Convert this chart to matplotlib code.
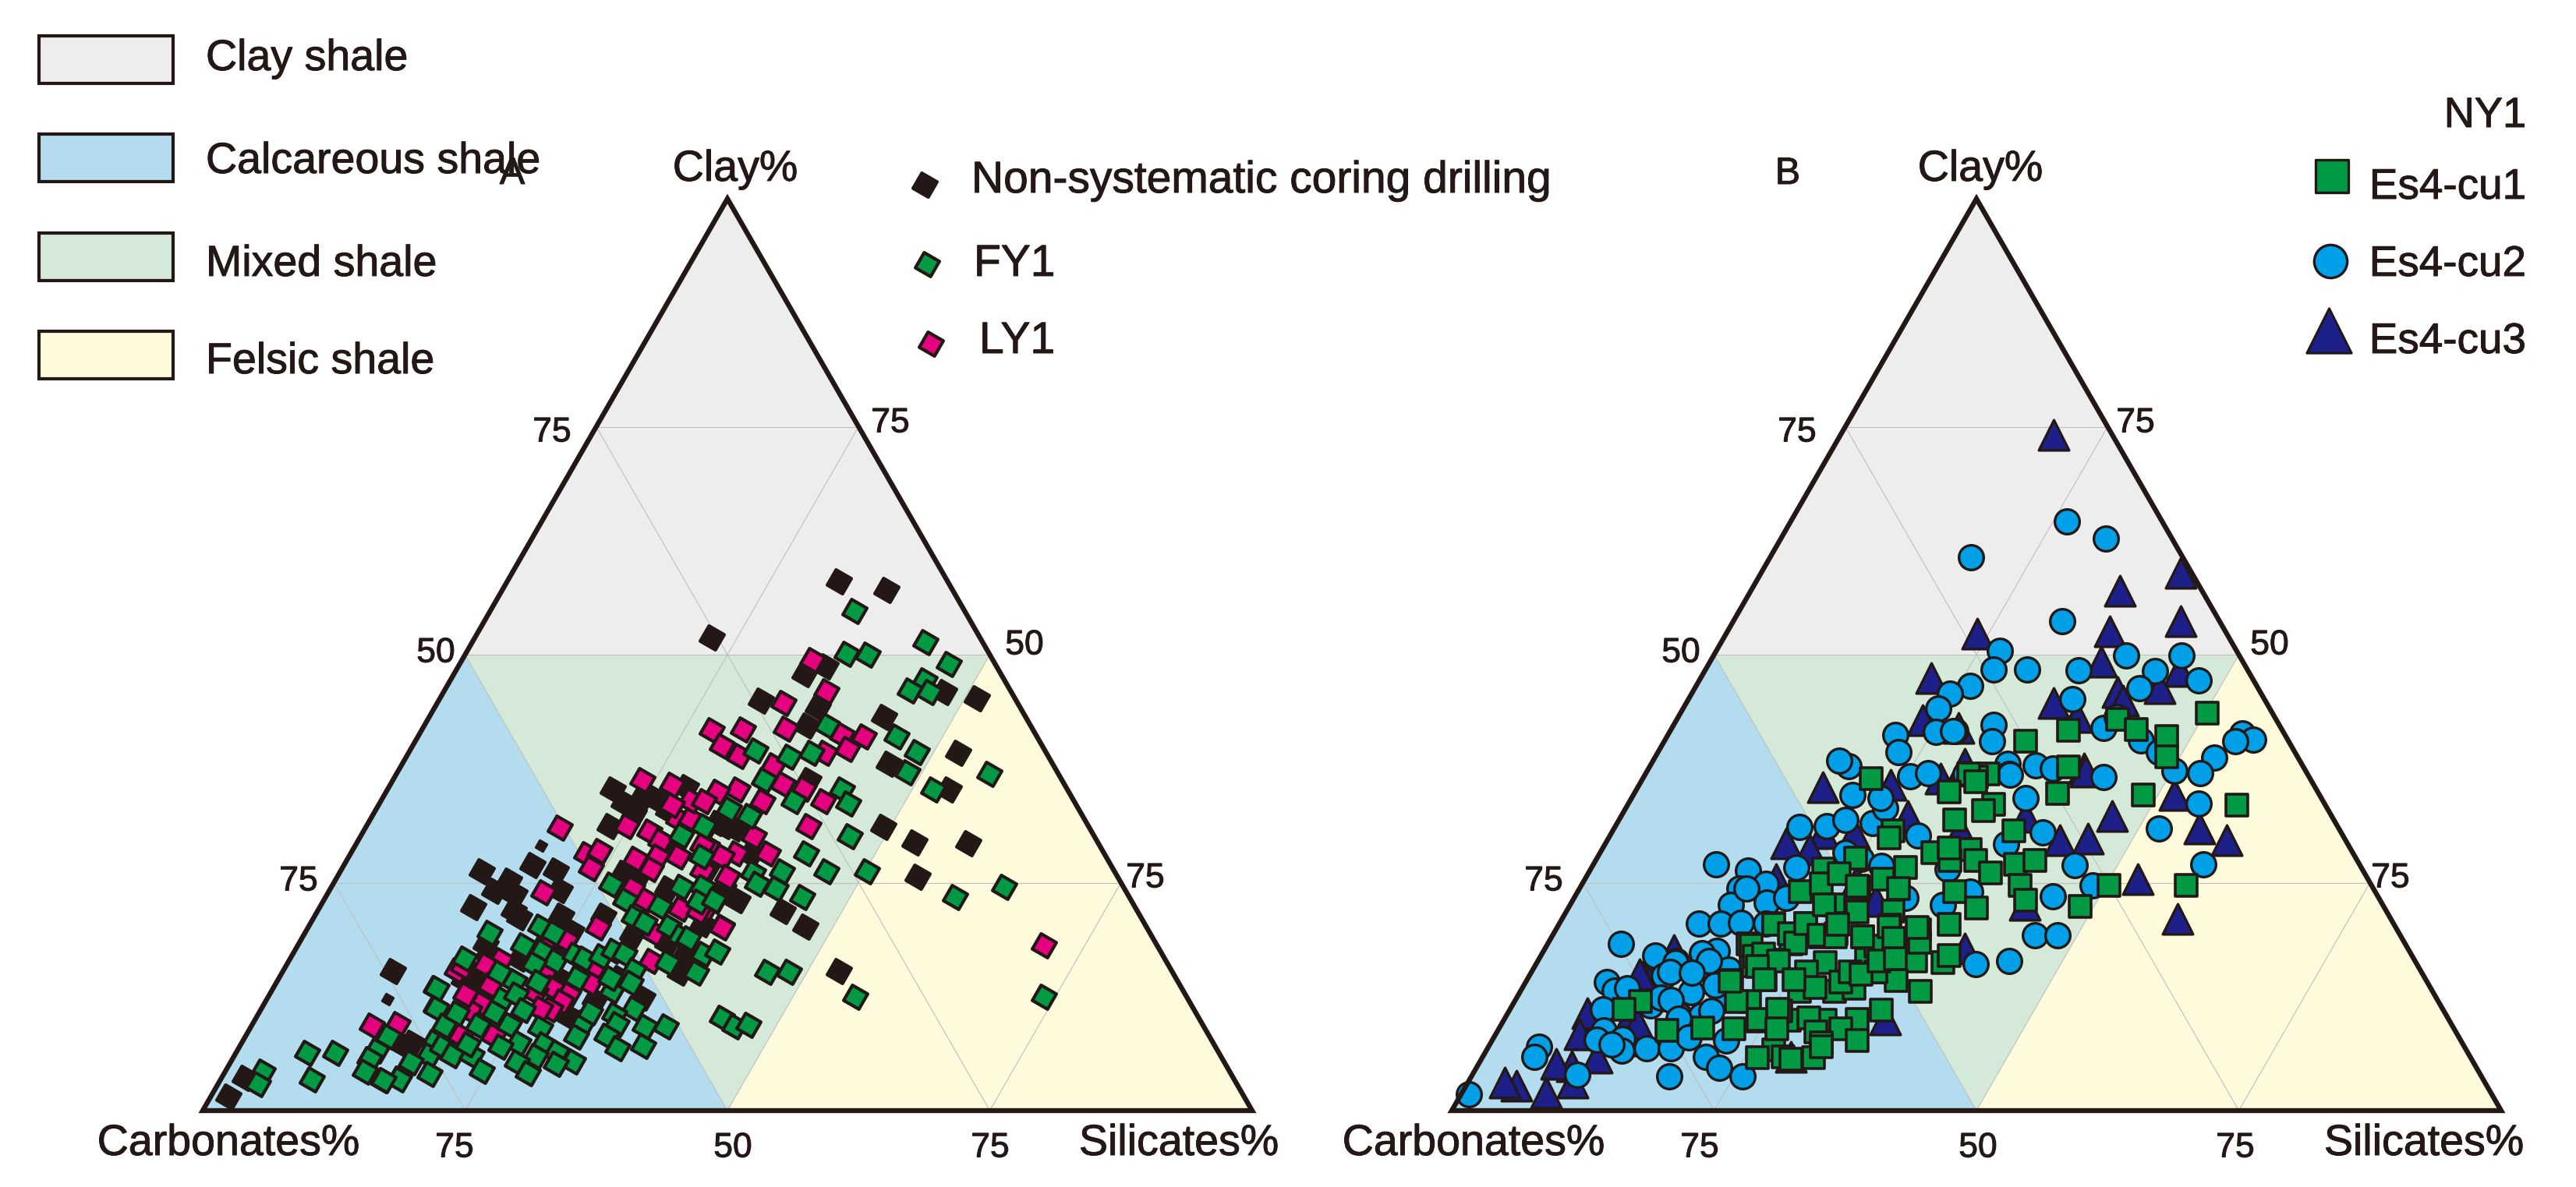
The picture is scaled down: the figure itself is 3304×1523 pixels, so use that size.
import numpy as np
import matplotlib
matplotlib.use('Agg')
import matplotlib.pyplot as plt
import matplotlib.patheffects as pe
from matplotlib.patches import Polygon, Rectangle

plt.rcParams['font.family'] = ['Liberation Sans', 'DejaVu Sans']

# Values, as (clay %, silicates %); carbonates % is the rest
non_systematic = [
    (58.0,31.6),(57.1,36.6),(51.9,22.6),(47.9,33.4),(48.7,35.0),(45.0,30.7),(44.2,36.5),(42.2,36.5),
    (43.2,43.3),(38.0,46.4),(45.9,47.7),(45.2,51.2),(39.2,52.4),(35.2,53.5),(31.1,49.3),(29.4,53.1),
    (29.3,58.3),(25.6,55.3),(36.2,39.6),(21.9,44.3),(20.2,47.3),(23.1,39.4),(24.4,37.4),(28.1,38.2),
    (31.2,34.2),(1.5,1.7),(3.6,2.2),(15.3,10.5),(26.2,13.5),(26.9,18.0),(26.3,20.5),(25.2,16.6),
    (24.1,15.7),(23.8,17.8),(24.2,21.9),(22.3,14.6),(21.9,18.7),(21.2,19.6),(21.4,23.5),(19.7,25.3),
    (18.2,17.9),(17.2,18.6),(14.4,17.7),(14.1,19.1),(13.0,20.5),(16.7,21.9),(18.1,25.1),(14.4,27.0),
    (12.1,31.3),(10.5,29.4),(14.5,32.4),(12.4,35.7),(7.4,16.2),(7.3,15.4),(31.2,23.2),(33.8,23.2),
    (32.6,24.8),(34.3,25.9),(32.9,27.9),(35.2,21.5),(31.5,33.3),(30.9,35.3),(28.6,30.3),(26.1,27.1),
    (25.5,28.6),(24.4,32.1),(21.4,27.5),(19.2,31.3),(20.4,37.4),(18.4,35.1),(17.2,37.4),(15.1,37.9),
    (34.3,24.7),(35.5,28.3),(15.3,53.0),
]
non_systematic_small = [(29.1,17.7),(12.2,11.5)]

fy1 = [
    (54.8,34.7),(50.1,36.3),(50.0,38.4),(51.4,43.2),(49.0,46.6),(47.2,45.2),(46.1,44.3),(45.9,46.3),
    (42.2,38.4),(41.0,45.6),(39.3,48.4),(37.1,48.6),(39.5,32.9),(38.8,36.5),(39.2,38.4),(36.2,35.4),
    (35.2,43.3),(33.7,44.7),(33.9,39.4),(33.1,33.6),(32.3,35.9),(30.1,46.6),(36.9,56.5),(35.2,52.0),
    (28.2,43.4),(26.2,46.3),(26.2,50.2),(26.2,42.1),(26.1,39.4),(24.9,40.4),(24.4,42.4),(23.4,45.4),
    (23.4,60.0),(24.5,64.1),(23.0,37.2),(31.1,32.4),(4.3,3.6),(2.9,3.8),(6.3,6.8),(6.3,9.5),(3.4,8.7),
    (8.1,13.6),(6.6,13.3),(5.6,13.1),(4.3,13.3),(3.3,15.5),(3.5,17.0),(13.4,15.5),(11.3,16.6),
    (19.5,17.6),(16.7,16.6),(13.4,15.6),(11.2,16.7),(18.1,21.5),(20.2,22.1),(19.5,23.7),(17.4,23.6),
    (16.4,25.4),(16.1,23.5),(17.1,26.9),(16.7,28.0),(16.9,29.5),(17.5,30.4),(17.2,31.6),(15.1,20.7),
    (14.2,22.6),(14.1,24.9),(14.5,28.4),(13.2,32.4),(15.4,33.4),(14.0,33.8),(11.2,35.5),(10.5,34.0),
    (9.5,34.7),(9.2,37.5),(9.2,39.5),(8.2,34.4),(6.8,36.1),(7.1,38.4),(9.7,31.4),(10.8,31.5),(8.1,31.5),
    (12.2,22.4),(10.8,22.4),(12.7,23.5),(11.0,25.0),(9.4,24.5),(9.3,21.6),(9.3,18.4),(10.7,18.9),
    (7.5,18.3),(6.1,18.5),(7.0,19.3),(6.1,20.7),(6.1,22.6),(7.3,21.6),(4.4,24.4),(5.3,17.2),(4.0,19.6),
    (3.4,17.0),(3.3,15.6),(7.4,26.4),(9.1,27.6),(7.3,28.8),(6.4,30.5),(6.0,28.7),(5.3,27.3),(4.1,28.9),
    (5.4,32.6),(5.1,31.1),(7.0,24.9),(14.5,31.6),(10.2,44.4),(9.2,46.1),(9.4,47.3),(24.8,26.5),
    (23.1,28.7),(21.2,30.5),(20.6,31.8),(22.4,32.3),(24.5,33.4),(24.5,35.4),(22.9,35.8),(23.1,37.2),
    (20.2,34.3),(19.1,36.0),(18.9,36.8),(17.2,39.1),(17.4,40.3),(16.2,36.2),(15.1,39.5),(30.2,30.5),
    (31.2,32.2),(27.9,33.6),(15.2,46.2),(15.2,48.3),(12.5,55.9),(12.5,73.9),
]

ly1 = [
    (49.4,33.4),(46.0,36.4),(44.7,33.0),(41.9,34.6),(41.7,27.7),(41.8,30.6),(40.0,29.5),(38.9,31.7),
    (41.2,40.3),(41.0,42.5),(39.7,41.6),(39.2,39.7),(37.9,35.4),(35.8,37.4),(35.3,39.6),(35.2,33.4),
    (35.0,31.5),(33.9,36.4),(33.9,42.2),(31.2,42.1),(30.1,37.5),(28.2,39.8),(28.2,36.7),(29.0,33.6),
    (27.9,35.5),(26.4,34.8),(25.6,37.2),(20.2,39.4),(22.2,36.8),(9.3,11.5),(9.5,13.8),(31.0,18.5),
    (28.1,22.5),(28.5,23.6),(26.6,23.7),(23.9,20.5),(15.4,16.5),(15.8,16.9),(16.5,20.1),(16.0,19.0),
    (13.8,20.5),(11.7,20.7),(11.0,19.9),(12.7,18.7),(8.2,20.5),(8.2,23.6),(18.5,23.4),(18.7,25.3),
    (15.4,25.1),(15.5,29.5),(14.0,29.9),(13.5,26.5),(13.0,25.2),(12.7,28.5),(12.0,28.2),(11.1,27.6),
    (11.2,26.6),(20.1,27.6),(16.4,34.5),(20.1,39.4),(22.1,34.5),(21.9,36.3),(23.2,30.5),(24.4,28.7),
    (19.5,33.3),(31.2,24.8),(30.6,27.3),(29.6,28.8),(32.0,29.3),(32.0,30.5),(34.0,29.5),(33.9,30.8),
    (27.6,27.4),(27.9,29.4),(26.5,29.5),(27.9,31.4),(29.1,33.1),(26.3,34.5),(36.2,23.8),(35.7,26.9),
    (33.5,28.0),(18.1,71.1),
]

es4_cu1 = [
    (43.6,50.2),(41.7,37.9),(40.5,34.4),(42.9,42.0),(41.8,44.3),(41.0,47.6),(38.8,48.7),(37.7,39.9),
    (36.9,32.7),(36.6,31.7),(36.9,30.8),(36.4,21.8),(35.0,29.9),(36.1,31.9),(33.6,34.8),(32.9,34.2),
    (31.9,32.0),(30.7,26.7),(29.9,26.7),(30.7,38.2),(34.8,40.3),(34.6,48.6),(27.7,24.6),(26.5,22.2),
    (28.3,31.7),(28.6,35.1),(27.4,33.8),(26.7,29.9),(27.4,36.2),(27.0,40.2),(27.4,41.9),(24.0,21.2),
    (24.9,22.8),(26.0,23.9),(25.4,28.4),(24.4,30.4),(24.5,26.5),(26.1,38.3),(24.7,41.8),(24.0,35.9),
    (22.2,38.9),(23.1,43.1),(22.4,48.7),(24.7,50.3),(24.7,57.6),(22.6,25.1),(20.5,20.4),(20.5,23.5),
    (21.9,31.1),(21.9,27.6),(20.3,31.6),(20.4,37.2),(19.8,34.7),(18.3,19.1),(17.1,20.9),(19.1,25.5),
    (19.1,29.6),(19.4,26.9),(18.3,23.2),(18.5,33.0),(16.2,38.7),(16.4,36.0),(15.2,33.0),(16.2,27.5),
    (16.5,22.8),(15.9,20.6),(14.3,19.5),(13.1,26.6),(13.1,29.9),(13.1,38.1),(14.3,35.2),(13.4,31.6),
    (12.0,22.4),(12.0,21.1),(12.0,12.0),(11.1,10.9),(8.8,16.1),(9.1,19.4),(9.0,22.4),(9.9,27.2),
    (9.9,30.6),(10.2,28.9),(10.0,33.6),(11.0,35.4),(9.0,32.6),(8.6,30.4),(9.8,24.3),(10.9,25.9),
    (7.7,34.8),(7.4,31.5),(6.7,27.3),(5.8,26.2),(5.9,28.6),(5.8,31.6),(5.6,29.5),(15.2,26.2),
    (16.6,31.2),(14.1,30.0),(14.4,22.7),(18.0,31.4),(33.5,58.1),
    (20.4,20.5),(19.4,22.5),(18.4,23.6),(20.5,23.5),(19.2,25.4),(19.1,27.0),(20.5,27.4),(19.1,29.6),
    (20.2,31.6),(18.9,32.7),(18.5,35.3),(20.1,34.3),(18.1,19.5),(16.9,20.4),(17.2,21.1),(16.4,22.9),
    (15.8,21.2),(14.4,22.6),(14.2,19.4),(10.0,24.2),(11.1,25.5),(7.0,31.7),(9.0,26.5),(13.5,27.9),
    (15.2,32.8),(17.0,38.9),(14.4,25.4),(15.2,30.4),(15.0,31.5),(16.4,32.5),(16.7,33.9),(24.6,26.3),
    (28.8,33.0),(21.8,27.7),(22.6,24.2),(20.4,26.6),
]

es4_cu2 = [
    (64.6,26.3),(62.7,31.0),(60.7,19.1),(53.7,31.3),(50.4,27.0),(48.4,27.4),(48.4,30.6),(48.3,35.6),
    (49.9,39.3),(48.2,42.9),(49.9,44.6),(47.2,47.6),(46.3,42.4),(46.6,26.1),(45.7,24.6),(45.1,36.6),
    (42.3,30.5),(40.5,31.2),(42.0,41.1),(43.2,41.8),(40.6,45.4),(39.3,47.7),(41.4,54.6),(40.7,56.0),
    (40.5,54.4),(38.7,53.3),(37.0,52.8),(38.0,34.0),(36.9,34.7),(37.9,36.7),(37.5,38.5),(36.6,43.8),
    (41.6,27.2),(36.9,30.5),(27.0,11.7),(26.3,15.1),(24.9,17.5),(24.4,15.2),(22.8,18.6),(23.3,20.2),
    (26.7,19.5),(31.1,17.6),(31.2,20.1),(31.9,21.6),(31.5,24.4),(33.2,24.7),(34.6,20.9),(37.8,18.9),
    (38.4,17.7),(41.2,21.7),(39.3,22.9),(44.1,24.3),(41.5,25.4),(41.6,27.0),(36.7,25.3),(37.0,26.9),
    (34.3,23.7),(30.2,29.3),(36.8,34.8),(34.3,37.5),(30.5,41.1),(29.2,38.2),(26.9,45.9),(23.5,45.5),
    (24.7,48.7),(19.2,46.0),(19.2,48.1),(16.1,41.9),(16.4,44.9),(22.6,35.5),(24.0,37.4),(23.3,31.6),
    (27.6,25.2),(26.8,27.5),(26.5,34.0),(28.3,23.4),(22.6,15.3),(20.5,13.3),(20.5,15.4),(20.6,17.3),
    (20.5,19.7),(17.5,16.5),(17.3,15.2),(16.4,13.2),(17.0,10.9),(18.3,7.0),(14.1,7.7),(13.2,8.9),
    (14.8,12.8),(13.0,16.3),(14.8,18.1),(12.7,19.8),(11.1,8.9),(8.8,10.1),(7.9,12.3),(6.8,15.2),
    (6.8,17.5),(6.6,12.9),(10.4,16.5),(10.4,18.6),(5.9,21.3),(4.7,23.1),(3.8,25.8),(3.8,18.8),
    (3.9,10.0),(7.0,4.8),(5.9,4.9),(1.8,0.7),(7.7,22.3),(12.3,13.8),(10.9,19.3),(27.0,58.1),
    (37.3,50.2),(33.7,54.3),(30.9,51.9),
    (24.4,15.9),(15.5,18.6),(16.2,13.2),(15.2,13.2),(16.4,16.3),(15.1,15.3),(13.4,10.0),(11.5,13.2),
    (12.4,13.7),(12.1,14.8),(10.1,16.6),(7.8,9.9),(7.3,11.6),(8.0,18.6),(13.8,18.2),
]

es4_cu3 = [
    (74.1,20.3),(59.0,40.0),(57.0,35.2),(53.7,42.6),(52.3,23.9),(52.6,36.4),(49.2,37.3),(45.9,40.5),
    (45.0,41.5),(48.2,45.2),(46.3,44.3),(44.7,35.0),(43.2,38.0),(42.0,27.3),(38.0,29.9),(37.5,41.5),
    (35.5,17.6),(35.7,24.0),(32.3,27.3),(30.4,20.2),(29.3,17.2),(28.6,19.8),(30.4,23.1),(30.7,33.1),
    (32.2,38.6),(29.7,43.1),(29.8,45.7),(25.4,52.7),(21.0,58.7),(22.6,43.3),(17.8,40.0),(42.8,23.5),
    (34.6,51.6),(32.3,46.8),(30.9,55.8),(25.1,26.0),(23.0,28.9),(25.4,18.2),(17.6,12.4),(14.8,10.9),
    (14.1,11.8),(8.4,8.9),(9.5,11.9),(7.7,14.2),(5.8,10.9),(4.9,9.0),(5.1,7.4),(3.1,10.0),(2.0,8.0),
    (2.7,4.8),(3.1,3.5),(10.0,36.3),(5.9,29.4),(36.4,28.4),(29.7,59.0),
    (47.4,22.0),(37.2,41.8),(15.0,10.4),(10.7,7.6),(8.4,8.0),(9.6,12.9),(13.8,13.2),
]

ticks = [25, 50, 75]
rock_names = ['Clay shale', 'Calcareous shale', 'Mixed shale', 'Felsic shale']
rock_colors = ['#EDEDEE', '#B3DDEE', '#D5E9D9', '#FEFBDC']

INK = '#231815'
GREEN = '#009944'
MAGENTA = '#E4007F'
CYAN = '#00A0E9'
NAVY = '#1D2088'

# triangle geometry in picture pixels
BOTTOM = 1425
SIDE = 1346
HEIGHT = 1170
LEFT_A = 260
LEFT_B = 1862


def to_xy(clay, sil, left):
    clay = np.asarray(clay, dtype=float)
    sil = np.asarray(sil, dtype=float)
    return left + SIDE * (sil + clay / 2) / 100, BOTTOM - HEIGHT * clay / 100


fig = plt.figure(figsize=(33.04, 15.23), dpi=100)
ax = fig.add_axes([0, 0, 1, 1])
ax.set_xlim(0, 3304)
ax.set_ylim(1523, 0)
ax.axis('off')


def poly(points, left, color):
    xy = [to_xy(c, s, left) for c, s in points]
    ax.add_patch(Polygon(xy, closed=True, fc=color, ec='none', zorder=1))


def draw_triangle(left):
    # rock type fields, (clay, silicates) corners
    poly([(50, 50), (100, 0), (50, 0)], left, rock_colors[0])
    poly([(0, 0), (50, 0), (0, 50)], left, rock_colors[1])
    poly([(50, 0), (50, 50), (0, 50)], left, rock_colors[2])
    poly([(0, 50), (50, 50), (0, 100)], left, rock_colors[3])
    for t in ticks:
        lines = [((t, 0), (t, 100 - t)), ((0, t), (100 - t, t)), ((0, 100 - t), (100 - t, 0))]
        for a, b in lines:
            xa, ya = to_xy(a[0], a[1], left)
            xb, yb = to_xy(b[0], b[1], left)
            ax.plot([xa, xb], [ya, yb], color='#BEBEBE', lw=0.8, zorder=2)
    frame = [to_xy(c, s, left) for c, s in [(0, 0), (0, 100), (100, 0)]]
    ax.add_patch(Polygon(frame, closed=True, fc='none', ec=INK, lw=4.6, joinstyle='miter', zorder=20))


def points(data, left, marker, color, s, lw, z):
    c, si = zip(*data)
    x, y = to_xy(c, si, left)
    ax.scatter(x, y, marker=marker, s=s, c=color, edgecolors=INK, linewidths=lw, zorder=z)


def label(x, y, text, size=40, ha='left', va='baseline'):
    t = ax.text(x, y, text, fontsize=size, color=INK, ha=ha, va=va, zorder=30)
    t.set_path_effects([pe.withStroke(linewidth=0.7, foreground=INK)])


draw_triangle(LEFT_A)
draw_triangle(LEFT_B)

DIAMOND = (4, 0, 15)
points(non_systematic, LEFT_A, DIAMOND, INK, 530, 3.0, 5)
points(non_systematic_small, LEFT_A, DIAMOND, INK, 120, 2.0, 5)
points(ly1, LEFT_A, DIAMOND, MAGENTA, 530, 3.0, 6)
points(fy1, LEFT_A, DIAMOND, GREEN, 530, 3.0, 7)

points(es4_cu3, LEFT_B, '^', NAVY, 780, 2.4, 5)
points(es4_cu2, LEFT_B, 'o', CYAN, 520, 2.4, 6)
points(es4_cu1, LEFT_B, 's', GREEN, 400, 2.6, 7)

# rock type key
key_tops = [46, 172, 299, 425]
key_base = [90, 222, 354, 479]
for top, base, name, col in zip(key_tops, key_base, rock_names, rock_colors):
    ax.add_patch(Rectangle((50, top), 172, 61, fc=col, ec=INK, lw=3, zorder=3))
    label(264, base, name)

# corner and panel labels, panel B is the same frame moved right
for dx in (0, 1597):
    label(943 + dx, 232, 'Clay%', ha='center')
    label(293 + dx, 1482, 'Carbonates%', ha='center')
    label(1512 + dx, 1482, 'Silicates%', ha='center')
    for x, y, t in [(708, 555, '75'), (1142, 543, '75'), (559, 838, '50'), (1314, 828, '50'),
                    (383, 1131, '75'), (1469, 1127, '75'), (583, 1473, '75'), (940, 1473, '50'),
                    (1270, 1473, '75')]:
        label(x + dx, y, t, size=32, ha='center', va='center')
label(657, 236, 'A', size=35, ha='center')
label(2293, 236, 'B', size=35, ha='center')

# panel A key
for x, y, col in [(1186, 237, INK), (1189, 339, GREEN), (1194, 441, MAGENTA)]:
    ax.scatter([x], [y], marker=DIAMOND, s=530, c=col, edgecolors=INK, linewidths=3.0, zorder=8)
label(1246, 247, 'Non-systematic coring drilling', size=41)
label(1249, 354, 'FY1', size=41)
label(1256, 453, 'LY1', size=41)

# panel B key
ax.scatter([2991], [226], marker='s', s=930, c=GREEN, edgecolors=INK, linewidths=2.4, zorder=8)
ax.scatter([2989], [335], marker='o', s=930, c=CYAN, edgecolors=INK, linewidths=2.4, zorder=8)
ax.scatter([2987], [424], marker='^', s=1700, c=NAVY, edgecolors=INK, linewidths=2.2, zorder=8)
label(3240, 163, 'NY1', size=39, ha='right')
label(3240, 255, 'Es4-cu1', size=39.5, ha='right')
label(3240, 354, 'Es4-cu2', size=39.5, ha='right')
label(3240, 453, 'Es4-cu3', size=39.5, ha='right')

fig.savefig('out.png', dpi=100, facecolor='white')
